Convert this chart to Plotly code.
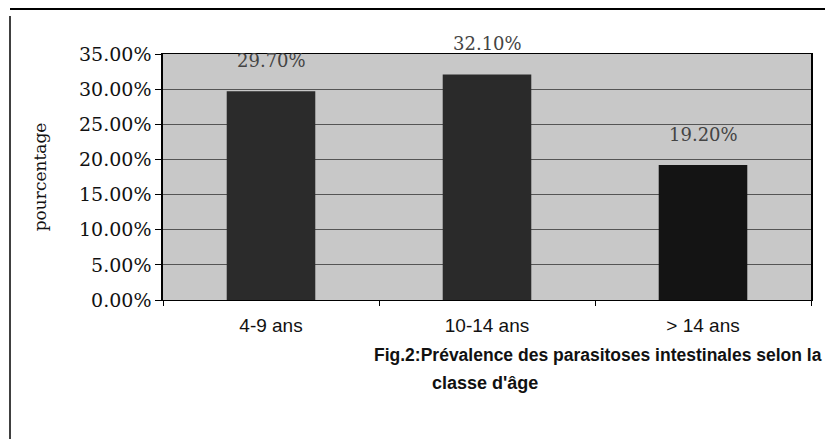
import plotly.graph_objects as go

# données
classes = ["4-9 ans", "10-14 ans", "> 14 ans"]
prevalence = [0.297, 0.321, 0.192]
y_ticks = [0.0, 0.05, 0.10, 0.15, 0.20, 0.25, 0.30, 0.35]

SERIF = "DejaVu Serif, Liberation Serif, serif"
SANS = "Liberation Sans, Arial, sans-serif"

# zone de tracé en pixels (la page ajoute 8 px de marge)
W, H = 825, 431
L, R, T, B = 155, 22, 46, 139
pw, ph = W - L - R, H - T - B


def px(x):
    return (x - L) / pw


def py(y):
    return (H - B - y) / ph


fig = go.Figure()
fig.add_trace(go.Bar(
    x=classes,
    y=prevalence,
    width=0.41,
    marker=dict(color=["#2b2b2b", "#2a2a2a", "#141414"], line=dict(width=0)),
    showlegend=False,
))

# étiquettes de valeur au-dessus des barres
for c, v in zip(classes, prevalence):
    fig.add_annotation(
        x=c, y=v, xref="x", yref="y",
        text=f"{v * 100:.2f}%",
        showarrow=False, yanchor="bottom", yshift=18,
        font=dict(family=SERIF, size=18, color="#444444"),
    )

fig.update_layout(
    width=W, height=H,
    margin=dict(l=L, r=R, t=T, b=B),
    paper_bgcolor="white",
    plot_bgcolor="#c8c8c8",
    xaxis=dict(
        showgrid=False,
        showline=True, linecolor="black", linewidth=1, mirror=True,
        ticks="outside", tickson="boundaries", ticklen=5, tickcolor="black",
        tickfont=dict(family=SANS, size=19, color="#111"),
        ticklabelstandoff=8,
    ),
    yaxis=dict(
        range=[0, 0.35],
        tickvals=y_ticks,
        tickformat=".2%",
        ticks="outside", ticklen=6, tickcolor="black",
        showgrid=True, gridcolor="#555555", gridwidth=1,
        showline=True, linecolor="black", linewidth=1.5, mirror=True,
        zeroline=False,
        tickfont=dict(family=SERIF, size=19, color="#111"),
        title=dict(text="pourcentage", font=dict(family=SERIF, size=17, color="#111"), standoff=28),
    ),
)

# légende de la figure sous le graphique
fig.add_annotation(
    xref="paper", yref="paper", x=px(364), y=py(347), xanchor="left", yanchor="middle",
    text="<b>Fig.2:Prévalence des parasitoses intestinales selon la</b>",
    showarrow=False, font=dict(family=SANS, size=17.5, color="#111"),
)
fig.add_annotation(
    xref="paper", yref="paper", x=px(477), y=py(375), xanchor="center", yanchor="middle",
    text="<b>classe d'âge</b>",
    showarrow=False, font=dict(family=SANS, size=18, color="#111"),
)

# cadre partiel autour de la figure
fig.add_shape(type="line", xref="paper", yref="paper", x0=px(2), x1=px(W), y0=py(1), y1=py(1),
              line=dict(color="black", width=2))
fig.add_shape(type="line", xref="paper", yref="paper", x0=px(2), x1=px(2), y0=py(8), y1=py(H),
              line=dict(color="black", width=1.5))

fig.write_html("out.html")
